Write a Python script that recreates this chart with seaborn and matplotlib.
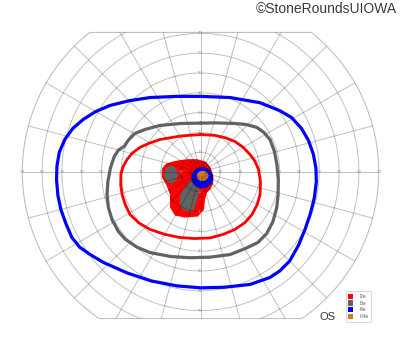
import numpy as np
import pandas as pd
import matplotlib
matplotlib.use("Agg")
import matplotlib.pyplot as plt
import seaborn as sns
from matplotlib.patches import Polygon, Ellipse, Patch

# ---- isopter data (degrees: x = horizontal, y = vertical) ----
i4e_x = [0, 15, 30, 40, 46, 51, 54.5, 57, 58.3, 58.5, 57.5, 55.5, 52.8, 49.5, 45, 40, 35, 25, 12, 0, -12, -25, -37, -49, -56, -61, -65, -68, -70.5, -72, -72.7, -72.5, -71.3, -68.5, -64.5, -59.3, -53, -45.7, -36, -25.5, -12]
i4e_y = [38.2, 37.6, 35, 31, 27.5, 22, 16, 9, 2, -5, -13, -21, -29, -37, -45, -50, -53.3, -56.8, -58.2, -58.5, -57.5, -55, -51, -45.7, -41.5, -38, -33, -26, -19, -12, -4, 3, 10, 16.5, 22, 26.5, 30.5, 33.6, 36, 37.6, 38.2]

i3e_x = [0, -10, -20.5, -28, -33.1, -36.5, -38.5, -41.5, -43.5, -45.5, -46.8, -47.2, -46.5, -44.7, -41.5, -38, -32, -25.5, -15, -5.3, 5, 14.9, 23, 29, 33.5, 36.6, 38.5, 39.2, 39.3, 38.6, 37.3, 35.1, 32, 28.5, 23, 17.4, 8]
i3e_y = [24.7, 24.5, 23.5, 21.5, 19.5, 16, 13, 11, 8, 2, -5, -11.4, -18, -24, -30, -34, -38, -40.7, -42.7, -43.3, -43, -41.7, -38.5, -35.6, -31, -25, -18, -11.4, -4, 3.8, 10.5, 16.4, 20, 22.5, 24, 24.5, 24.8]

i2e_x = [0, -10, -20.5, -26, -30.6, -34.5, -37.1, -39.2, -40.2, -40.3, -39.6, -38, -35.6, -31, -25.5, -18, -10.4, -3, 4.8, 11.5, 17.4, 22.5, 26, 28.6, 30.1, 30.3, 29.3, 27.5, 25, 21.5, 17.4, 12.5, 7.3]
i2e_y = [18.9, 18.2, 16.4, 14.5, 12.4, 9.5, 6.3, 2.5, -1.3, -6.5, -11.4, -16.5, -21.5, -25.8, -29, -31.5, -33.1, -33.6, -33.3, -31.5, -29, -25.5, -21.5, -16.5, -11.4, -5, 1.3, 5.5, 8.8, 12.5, 15.4, 17.3, 18.5]

# central scotoma areas
red_blob_x = [-17.4, -14, -10.4, -6, -1.8, 2.8, 5.3, 6.5, 6.4, 5, 3.3, 2.3, 1.8, -1.3, -7.8, -12.9, -15.4, -15.4, -17.4, -19.4, -19.6, -19.4]
red_blob_y = [4.2, 5.3, 6.0, 6.5, 6.5, 5.2, 2.0, -2.5, -6.0, -8.5, -10.5, -13.9, -18.9, -22.5, -23.0, -22.0, -17.9, -11.4, -6.3, -2.8, -0.5, 1.8]
gray_blob_x = [-3.6, -1.1, -1.1, -2.8, -3.6, -7.8, -10.4, -10.4, -8.7, -6.2]
gray_blob_y = [-3.8, -7.2, -12.2, -17.2, -19.8, -19.8, -17.2, -12.2, -8.8, -5.5]
gray_oval = [-14.9, -1.3, 7.0, 8.6]      # cx, cy, width, height
blue_oval = [0.9, -2.9, 10.6, 10.2]
orange_oval = [1.1, -2.0, 6.0, 5.2]

series = ["I2e", "I3e", "I4e", "III4e"]
colors = ["#ff0000", "#626262", "#0000ff", "#d2782a"]

h_ticks = [10, 20, 30, 40, 50, 60, 70, 80, 90]
v_ticks = [10, 20, 30, 40, 50, 60, 70]

sns.set_theme(style="white")
plt.rcParams["font.family"] = ["Liberation Sans", "DejaVu Sans"]

fig = plt.figure(figsize=(4, 3.52), dpi=100)
ax = fig.add_axes([0, 0, 1, 1])
cx, cy, s = 200.5, 172.0, 1.98
ax.set_xlim(-cx / s, (400 - cx) / s)
ax.set_ylim(-(352 - cy) / s, cy / s)
ax.set_aspect("equal")
ax.axis("off")

# ---- central fills ----
ax.fill(red_blob_x, red_blob_y, color=colors[0], zorder=1, lw=0)
ax.add_patch(Ellipse(gray_oval[:2], gray_oval[2], gray_oval[3], color=colors[1], zorder=1.1, lw=0))
ax.fill(gray_blob_x, gray_blob_y, color=colors[1], zorder=1.1, lw=0)
ax.add_patch(Ellipse(blue_oval[:2], blue_oval[2], blue_oval[3], facecolor=colors[2], edgecolor="#0000aa", lw=0.6, zorder=1.2))
ax.add_patch(Ellipse(orange_oval[:2], orange_oval[2], orange_oval[3], color=colors[3], zorder=1.3, lw=0))

# ---- grid ----
top_clip, bot_clip = 70.5, -74.0
t = np.linspace(0, 2 * np.pi, 721)
border = np.c_[90 * np.cos(t), np.clip(90 * np.sin(t), bot_clip, top_clip)]
clip = Polygon(border, closed=True, facecolor="none", edgecolor=(0, 0, 0, 0.25), lw=0.8, zorder=2)
ax.add_patch(clip)
gkw = dict(color="black", alpha=0.25, lw=0.7, zorder=2)
for r in [5] + list(range(10, 90, 10)):
    ln, = ax.plot(r * np.cos(t), r * np.sin(t), **gkw)
    ln.set_clip_path(clip)
for a in np.arange(0, 360, 15):
    ar = np.deg2rad(a)
    ln, = ax.plot([2.5 * np.cos(ar), 95 * np.cos(ar)], [2.5 * np.sin(ar), 95 * np.sin(ar)], **gkw)
    ln.set_clip_path(clip)

tkw = dict(fontsize=3.2, color="#9a9a9a", ha="center", va="center", zorder=3)
for v in h_ticks:
    ax.text(v, 0, str(v), **tkw)
    ax.text(-v, 0, str(v), **tkw)
for v in v_ticks:
    ax.text(0, v, str(v), **tkw)
    ax.text(0, -v, str(v), **tkw)

# ---- isopters ----
for xs, ys, c, lw in [(i4e_x, i4e_y, colors[2], 2.3), (i3e_x, i3e_y, colors[1], 2.3), (i2e_x, i2e_y, colors[0], 2.0)]:
    df = pd.DataFrame({"x": xs + [xs[0]], "y": ys + [ys[0]]})
    sns.lineplot(data=df, x="x", y="y", sort=False, estimator=None, color=c, lw=lw, ax=ax,
                 zorder=4, solid_joinstyle="round", solid_capstyle="round")

# ---- labels ----
handles = [Patch(facecolor=c, edgecolor="none") for c in colors]
leg = ax.legend(handles, series, loc="lower left", bbox_to_anchor=(345.5 / 400, 1 - 321.5 / 352),
                bbox_transform=fig.transFigure, fontsize=3.4, frameon=True, fancybox=False,
                edgecolor="#c8c8c8", handlelength=1.0, handleheight=1.3, borderpad=0.5,
                labelspacing=0.35, handletextpad=1.4, borderaxespad=0)
leg.get_frame().set_linewidth(0.6)
for txt in leg.get_texts():
    txt.set_color("#555555")

fig.text(328 / 400, 1 - 317 / 352, "OS", fontsize=8, color="#333333", ha="center", va="center")
fig.text(397 / 400, 1 - 9 / 352, "©StoneRoundsUIOWA", fontsize=10, color="#3a3a3a", ha="right", va="center")

fig.savefig("out.png", dpi=100)
